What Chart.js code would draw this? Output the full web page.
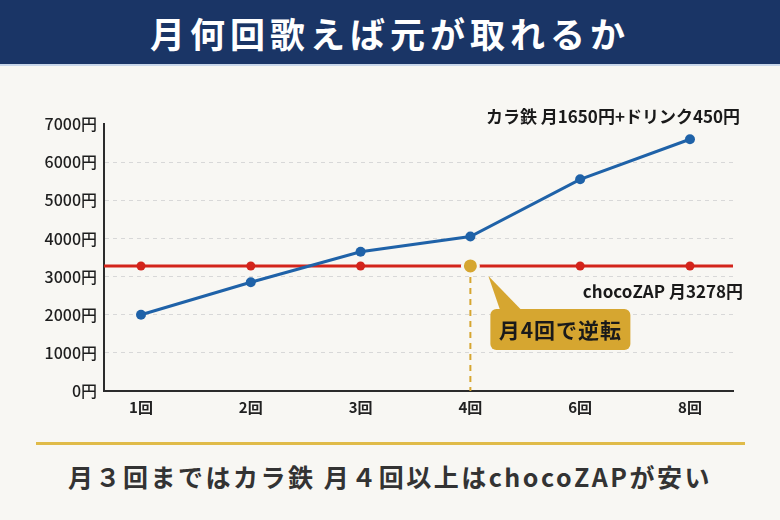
<!DOCTYPE html>
<html lang="ja">
<head>
<meta charset="utf-8">
<script src="https://cdn.jsdelivr.net/npm/chart.js@4"></script>
<style>
  html, body { margin: 0; padding: 0; }
  body {
    width: 780px; height: 520px; position: relative; overflow: hidden;
    background: #f8f7f3;
    font-family: 'Noto Sans CJK JP', sans-serif;
  }
  .banner {
    position: absolute; left: 0; top: 0; width: 780px; height: 64px;
    background: #1a3566; border-bottom: 2px solid #c9d7ea;
    color: #fff; font-weight: 700; font-size: 35px; letter-spacing: 5px;
    display: flex; align-items: center; justify-content: center;
  }
  .chart-box { position: absolute; left: 0; top: 65px; width: 780px; height: 370px; }
  .rule { position: absolute; left: 36px; top: 442px; width: 709px; height: 3px; background: #e0bb48; }
  .summary {
    position: absolute; left: 0; top: 458px; width: 780px; text-align: center;
    font-size: 25px; font-weight: 700; color: #333; letter-spacing: 2.5px;
  }
</style>
</head>
<body>
<div class="banner">月何回歌えば元が取れるか</div>
<div class="chart-box"><canvas id="costChart" width="780" height="370"></canvas></div>
<div class="rule"></div>
<div class="summary">月３回まではカラ鉄 月４回以上はchocoZAPが安い</div>
<script>
const categories = ['1回', '2回', '3回', '4回', '6回', '8回'];
const karaokeCosts = [2000, 2850, 3650, 4050, 5550, 6600];
const chocoZapCosts = [3278, 3278, 3278, 3278, 3278, 3278];
const crossIndex = 3;

const blue = '#1f62a8';
const red = '#d3241b';
const gold = '#d6a630';
const font = "'Noto Sans CJK JP', sans-serif";

// extra drawing: full-width red line, dashed guide, labels and callout
const notes = {
  id: 'notes',
  beforeDatasetsDraw(chart) {
    const { ctx, chartArea, scales } = chart;
    const y = scales.y.getPixelForValue(chocoZapCosts[0]);
    ctx.save();
    ctx.strokeStyle = red;
    ctx.lineWidth = 3;
    ctx.beginPath();
    ctx.moveTo(chartArea.left, y);
    ctx.lineTo(chartArea.right, y);
    ctx.stroke();

    const gx = scales.x.getPixelForValue(crossIndex + 1);
    ctx.strokeStyle = gold;
    ctx.lineWidth = 2;
    ctx.setLineDash([6, 5]);
    ctx.beginPath();
    ctx.moveTo(gx, y);
    ctx.lineTo(gx, chartArea.bottom);
    ctx.stroke();
    ctx.restore();
  },
  afterDatasetsDraw(chart) {
    const { ctx, chartArea, scales } = chart;
    const y = scales.y.getPixelForValue(chocoZapCosts[0]);
    const gx = scales.x.getPixelForValue(crossIndex + 1);
    ctx.save();
    ctx.fillStyle = '#1a1a1a';
    ctx.textAlign = 'right';
    ctx.textBaseline = 'middle';
    ctx.font = '700 17px ' + font;
    ctx.fillText('カラ鉄 月1650円+ドリンク450円', chartArea.right + 7, chartArea.top - 7);
    ctx.fillText('chocoZAP 月3278円', chartArea.right + 10, y + 26);

    // callout
    ctx.fillStyle = gold;
    ctx.beginPath();
    ctx.moveTo(gx + 18, y + 10);
    ctx.lineTo(gx + 30, y + 45);
    ctx.lineTo(gx + 52, y + 45);
    ctx.closePath();
    ctx.fill();
    ctx.beginPath();
    ctx.roundRect(gx + 20, y + 43, 140, 41, 6);
    ctx.fill();
    ctx.fillStyle = '#1a1a1a';
    ctx.textAlign = 'center';
    ctx.font = '700 21px ' + font;
    if ('letterSpacing' in ctx) ctx.letterSpacing = '1px';
    ctx.fillText('月4回で逆転', gx + 90, y + 64);
    ctx.restore();
  }
};

const pointColors = chocoZapCosts.map((v, i) => i === crossIndex ? gold : red);
const pointSizes = chocoZapCosts.map((v, i) => i === crossIndex ? 8 : 4.5);
const pointEdges = chocoZapCosts.map((v, i) => i === crossIndex ? '#f8f7f3' : red);
const pointEdgeWidths = chocoZapCosts.map((v, i) => i === crossIndex ? 3 : 0);

new Chart(document.getElementById('costChart'), {
  type: 'line',
  data: {
    datasets: [
      {
        label: 'カラ鉄',
        data: karaokeCosts.map((v, i) => ({ x: i + 1, y: v })),
        borderColor: blue,
        backgroundColor: blue,
        borderWidth: 3,
        pointRadius: 5,
        pointBorderWidth: 0,
        tension: 0
      },
      {
        label: 'chocoZAP',
        data: chocoZapCosts.map((v, i) => ({ x: i + 1, y: v })),
        showLine: false,
        pointBackgroundColor: pointColors,
        pointBorderColor: pointEdges,
        pointBorderWidth: pointEdgeWidths,
        pointRadius: pointSizes
      }
    ]
  },
  options: {
    responsive: false,
    animation: false,
    devicePixelRatio: 1,
    layout: { padding: { top: 59, right: 47, left: 0, bottom: 0 } },
    plugins: { legend: { display: false }, tooltip: { enabled: false } },
    scales: {
      x: {
        type: 'linear',
        min: 0.663,
        max: 6.392,
        afterBuildTicks: (scale) => { scale.ticks = categories.map((c, i) => ({ value: i + 1 })); },
        afterFit: (scale) => { scale.height = 44; },
        grid: { display: false, drawTicks: false },
        border: { color: '#2b2b2b', width: 2 },
        ticks: {
          padding: 7,
          color: '#222',
          font: { family: font, size: 15, weight: '600' },
          callback: (v) => categories[v - 1]
        }
      },
      y: {
        min: 0,
        max: 7000,
        afterFit: (scale) => { scale.width = 104; },
        grid: {
          drawTicks: false,
          color: (c) => (c.tick.value === 0 || c.tick.value === 7000) ? 'rgba(0,0,0,0)' : '#d8d8d8',
          lineWidth: 1
        },
        border: { color: '#2b2b2b', width: 2, dash: [4, 4] },
        ticks: {
          stepSize: 1000,
          padding: 7,
          color: '#1e1e1e',
          font: { family: font, size: 16, weight: '500' },
          callback: (v) => v + '円'
        }
      }
    }
  },
  plugins: [notes]
});
</script>
</body>
</html>
